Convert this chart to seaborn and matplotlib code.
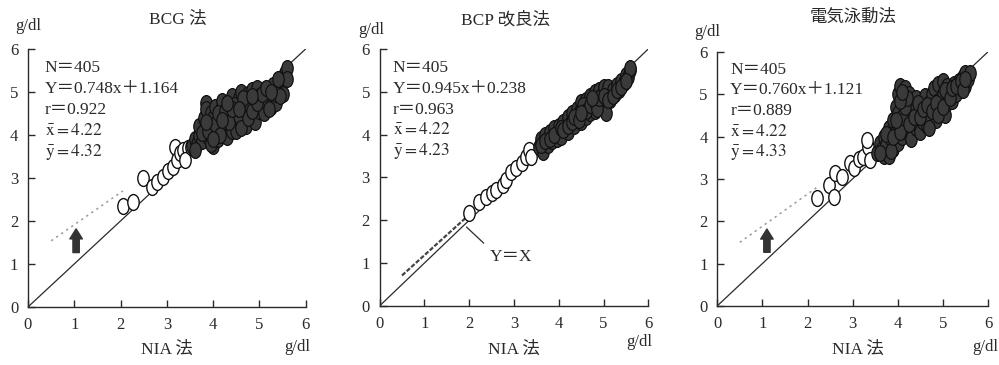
import numpy as np
import pandas as pd
import matplotlib
matplotlib.use("Agg")
import matplotlib.pyplot as plt
from matplotlib.path import Path
import seaborn as sns

sns.set_theme(style="white")
plt.rcParams['font.family'] = ['Liberation Serif', 'Noto Sans CJK JP', 'DejaVu Sans']
plt.rcParams['mathtext.fontset'] = 'stix'

# --- data (NIA method on x, other method on y, g/dl) ---
titles = ["BCG 法", "BCP 改良法", "電気泳動法"]
stats = [("405", "0.748", "1.164", "0.922", "4.22", "4.32"),
         ("405", "0.945", "0.238", "0.963", "4.22", "4.23"),
         ("405", "0.760", "1.121", "0.889", "4.22", "4.33")]
slopes = [0.748, 0.945, 0.760]
intercepts = [1.164, 0.238, 1.121]
fit_ranges = [(0.5, 2.05), (0.5, 2.0), (0.5, 2.25)]

bcg_open_x = [2.06, 2.27, 2.49, 2.67, 2.78, 2.92, 3.03, 3.14, 3.17, 3.21, 3.28, 3.35, 3.46, 3.39, 3.53]
bcg_open_y = [2.35, 2.45, 2.99, 2.80, 2.91, 3.03, 3.15, 3.26, 3.73, 3.42, 3.57, 3.65, 3.69, 3.42, 3.73]
bcg_fill_x = [3.55, 3.60, 3.65, 3.70, 3.70, 3.75, 3.80, 3.80, 3.85, 3.85, 3.90, 3.90, 3.95,
              4.00, 4.00, 4.00, 4.05, 4.10, 4.10, 4.15, 4.20, 4.20, 4.25, 4.30, 4.30, 4.35, 4.40, 4.40,
              4.45, 4.50, 4.50, 4.55, 4.60, 4.60, 4.65, 4.70, 4.70, 4.75, 4.80, 4.80, 4.85, 4.90, 4.90,
              4.95, 5.00, 5.00, 5.05, 5.10, 5.10, 5.15, 5.20, 5.25, 5.30, 5.30, 5.35, 5.40, 5.45, 5.50,
              5.50, 5.55, 5.60, 5.60,
              3.60, 3.75, 3.90, 3.95, 4.05, 4.10, 4.15, 4.25, 4.35, 4.45, 4.55, 4.60, 4.65, 4.75, 4.85,
              4.95, 5.05, 5.15, 5.20, 5.35, 5.40, 5.45, 4.40, 4.20, 4.00, 3.85, 4.55, 4.85, 5.25, 4.30]
bcg_fill_y = [3.75, 3.90, 3.80, 4.00, 4.20, 3.85, 4.10, 4.40, 4.75, 4.60, 3.95, 4.25, 4.50,
              3.75, 4.10, 4.40, 4.65, 3.90, 4.30, 4.55, 4.00, 4.80, 4.20, 4.45, 3.95, 4.70, 4.10, 4.90,
              4.35, 4.60, 4.10, 4.85, 4.30, 5.00, 4.55, 4.20, 4.75, 4.95, 4.45, 4.65, 5.05, 4.30, 4.80,
              5.10, 4.55, 4.90, 4.70, 5.00, 4.50, 4.80, 5.05, 4.65, 4.90, 5.15, 4.75, 5.00, 5.20, 4.95,
              5.35, 5.45, 5.55, 5.30,
              3.65, 4.05, 4.10, 3.80, 4.25, 4.50, 4.00, 4.55, 4.30, 4.70, 4.45, 4.15, 4.85, 4.40, 4.55,
              4.75, 4.95, 5.10, 4.60, 4.95, 5.30, 4.90, 4.60, 4.35, 3.90, 4.30, 4.60, 4.90, 5.00, 4.75]

bcp_open_x = [2.00, 2.23, 2.38, 2.52, 2.60, 2.75, 2.82, 2.93, 3.04, 3.19, 3.27, 3.34, 3.38]
bcp_open_y = [2.16, 2.43, 2.55, 2.63, 2.70, 2.82, 2.94, 3.13, 3.21, 3.33, 3.48, 3.64, 3.48]
bcp_fill_x = [3.55, 3.60, 3.65, 3.70, 3.75, 3.80, 3.85, 3.90, 3.95, 4.00, 4.00, 4.05, 4.10, 4.15,
              4.20, 4.20, 4.25, 4.30, 4.35, 4.40, 4.40, 4.45, 4.50, 4.50, 4.55, 4.60, 4.60, 4.65,
              4.70, 4.70, 4.75, 4.80, 4.80, 4.85, 4.90, 4.90, 4.95, 5.00, 5.00, 5.05, 5.10, 5.10,
              5.15, 5.20, 5.25, 5.30, 5.35, 5.40, 5.45, 5.50, 5.55, 5.60, 5.60,
              3.60, 3.70, 3.80, 3.90, 4.05, 4.10, 4.20, 4.30, 4.35, 4.45, 4.55, 4.60, 4.70, 4.80,
              4.85, 4.90, 5.00, 5.10, 5.20, 5.30, 5.40, 5.50, 4.50, 4.75]
bcp_fill_y = [3.70, 3.90, 3.60, 4.00, 3.75, 4.05, 3.85, 4.15, 3.90, 4.20, 4.00, 3.95, 4.30, 4.10,
              4.40, 4.05, 4.25, 4.50, 4.20, 4.60, 4.35, 4.50, 4.30, 4.75, 4.55, 4.40, 4.80, 4.65,
              4.50, 4.90, 4.70, 4.55, 5.00, 4.80, 4.65, 5.05, 4.90, 5.10, 4.70, 4.50, 4.95, 5.10,
              4.80, 5.05, 4.95, 5.15, 5.05, 5.25, 5.20, 5.40, 5.35, 5.50, 5.55,
              3.75, 3.85, 3.90, 4.00, 4.15, 4.10, 4.20, 4.30, 4.40, 4.35, 4.70, 4.55, 4.70, 4.75,
              4.60, 4.85, 4.90, 4.80, 4.90, 5.05, 5.10, 5.25, 4.50, 4.85]

ep_open_x = [2.21, 2.47, 2.58, 2.61, 2.76, 2.94, 3.02, 3.13, 3.24, 3.35, 3.31, 3.39]
ep_open_y = [2.54, 2.85, 2.58, 3.13, 3.05, 3.37, 3.25, 3.48, 3.52, 3.76, 3.92, 3.44]
ep_fill_x = [3.55, 3.60, 3.65, 3.70, 3.70, 3.75, 3.80, 3.80, 3.85, 3.90, 3.90, 3.95, 3.95, 4.00,
             4.00, 4.00, 4.05, 4.05, 4.10, 4.10, 4.15, 4.15, 4.20, 4.20, 4.25, 4.30, 4.30, 4.35,
             4.40, 4.40, 4.45, 4.50, 4.50, 4.55, 4.60, 4.60, 4.65, 4.70, 4.70, 4.75, 4.80, 4.80,
             4.85, 4.90, 4.90, 4.95, 5.00, 5.00, 5.05, 5.10, 5.10, 5.15, 5.20, 5.25, 5.30, 5.35,
             5.40, 5.45, 5.50, 5.50, 5.55, 5.60,
             3.60, 3.75, 3.85, 3.90, 4.00, 4.05, 4.10, 4.15, 4.20, 4.25, 4.35, 4.45, 4.50, 4.55,
             4.65, 4.70, 4.75, 4.85, 4.90, 5.00, 5.05, 5.15, 5.20, 5.30, 5.40, 5.45, 5.50, 4.05,
             3.95, 4.10]
ep_fill_y = [3.60, 3.85, 3.70, 4.00, 3.55, 3.80, 4.20, 3.55, 3.95, 4.40, 3.70, 4.70, 4.10, 5.00,
             4.30, 3.85, 5.20, 4.55, 4.00, 4.80, 5.15, 4.30, 4.10, 4.60, 5.00, 4.40, 3.95, 4.70,
             4.20, 4.90, 4.50, 4.10, 4.75, 4.35, 4.95, 4.60, 4.25, 4.80, 4.45, 5.00, 4.60, 5.15,
             4.40, 4.85, 5.25, 4.60, 5.00, 5.30, 4.50, 4.80, 5.20, 5.05, 4.85, 5.25, 5.00, 5.30,
             5.15, 5.40, 5.20, 5.50, 5.35, 5.50,
             3.60, 4.05, 3.65, 4.00, 4.55, 4.10, 4.45, 4.70, 4.90, 4.30, 4.45, 4.80, 4.45, 4.65,
             4.75, 4.20, 4.60, 4.80, 4.50, 4.70, 5.10, 4.90, 5.15, 5.20, 5.30, 5.10, 5.35, 4.85,
             4.40, 5.05]

open_pts = [(bcg_open_x, bcg_open_y), (bcp_open_x, bcp_open_y), (ep_open_x, ep_open_y)]
fill_pts = [(bcg_fill_x, bcg_fill_y), (bcp_fill_x, bcp_fill_y), (ep_fill_x, ep_fill_y)]
arrows_x = [1.04, None, 1.10]

# axes placement in figure fraction
boxes = [[0.028, 0.159, 0.278, 0.707],
         [0.380, 0.162, 0.269, 0.704],
         [0.718, 0.162, 0.271, 0.696]]
title_pos = [(0.54, 1.112), (0.47, 1.113), (0.50, 1.134)]
yunit_pos = [(0.0, 1.090), (-0.03, 1.074), (-0.037, 1.079)]
xunit_pos = [(0.97, -0.155), (0.967, -0.14), (0.99, -0.161)]
xlab_pos = [(0.50, -0.167), (0.50, -0.171), (0.52, -0.173)]
stat_pos = [(0.061, 0.926), (0.048, 0.926), (0.048, 0.929)]

ink = "#2a2a2a"
circ = Path.unit_circle()
ellipse = Path(circ.vertices * np.array([0.72, 1.0]), circ.codes)

fig = plt.figure(figsize=(9.99, 3.65), dpi=100)
fig.patch.set_facecolor("white")

for i in range(3):
    ax = fig.add_axes(boxes[i])
    ax.set_facecolor("white")
    ax.plot([0, 6], [0, 6], color=ink, lw=0.9, zorder=1)

    x0, x1 = fit_ranges[i]
    fx = np.array([x0, x1])
    fy = slopes[i] * fx + intercepts[i]
    if i == 1:
        ax.plot(fx, fy, color="#444444", lw=1.6, ls=(0, (2, 0.8)), zorder=1)
    else:
        ax.plot(fx, fy, color="#9a9a9a", lw=1.1, ls=(0, (1.5, 2.5)), zorder=1)

    od = pd.DataFrame({"x": open_pts[i][0], "y": open_pts[i][1]})
    fd = pd.DataFrame({"x": fill_pts[i][0], "y": fill_pts[i][1]})
    sns.scatterplot(data=od, x="x", y="y", ax=ax, marker=ellipse, s=130,
                    facecolor="white", edgecolor="#111111", linewidth=1.0, zorder=3)
    sns.scatterplot(data=fd, x="x", y="y", ax=ax, marker=ellipse, s=130,
                    color="#3a3a3a", edgecolor="#111111", linewidth=0.9, zorder=4)

    if arrows_x[i] is not None:
        ax.annotate("", xy=(arrows_x[i], 1.88), xytext=(arrows_x[i], 1.2),
                    arrowprops=dict(arrowstyle="simple,head_width=0.75,head_length=0.6,tail_width=0.38",
                                    fc="#333333", ec="#333333", mutation_scale=12))
    else:
        ax.annotate("Y＝X", xy=(1.94, 1.84), xytext=(2.94, 1.14), ha="center", va="center",
                    fontsize=12.5, color=ink,
                    arrowprops=dict(arrowstyle="-", color=ink, lw=0.9, relpos=(0.0, 1.0),
                                    shrinkA=3, shrinkB=0))

    ax.set_xlim(0, 6)
    ax.set_ylim(0, 6)
    ax.set_xticks(range(7))
    ax.set_yticks(range(7))
    ax.set_xlabel("")
    ax.set_ylabel("")
    for s in ["top", "right"]:
        ax.spines[s].set_visible(False)
    for s in ["left", "bottom"]:
        ax.spines[s].set_color(ink)
        ax.spines[s].set_linewidth(1.0)
    ax.tick_params(direction="in", length=5, width=1, color=ink, labelsize=12,
                   labelcolor=ink, pad=7, left=True, bottom=True)

    ax.text(*title_pos[i], titles[i], transform=ax.transAxes, ha="center", va="center",
            fontsize=12.5, color=ink)
    ax.text(*yunit_pos[i], "g/dl", transform=ax.transAxes, ha="center", va="center",
            fontsize=12, color=ink)
    ax.text(*xunit_pos[i], "g/dl", transform=ax.transAxes, ha="center", va="center",
            fontsize=12, color=ink)
    ax.text(*xlab_pos[i], "NIA 法", transform=ax.transAxes, ha="center", va="center",
            fontsize=12.5, color=ink)

    n, a, b, r, mx, my = stats[i]
    lines = ["N＝" + n, "Y＝" + a + "x＋" + b, "r＝" + r,
             r"$\bar{\mathrm{x}} = " + mx + "$", r"$\bar{\mathrm{y}} = " + my + "$"]
    sx, sy = stat_pos[i]
    for k, line in enumerate(lines):
        ax.text(sx, sy - k * 0.081, line, transform=ax.transAxes, ha="left", va="center",
                fontsize=12.5, color=ink, zorder=5)

fig.savefig("out.png", dpi=100, facecolor="white")
